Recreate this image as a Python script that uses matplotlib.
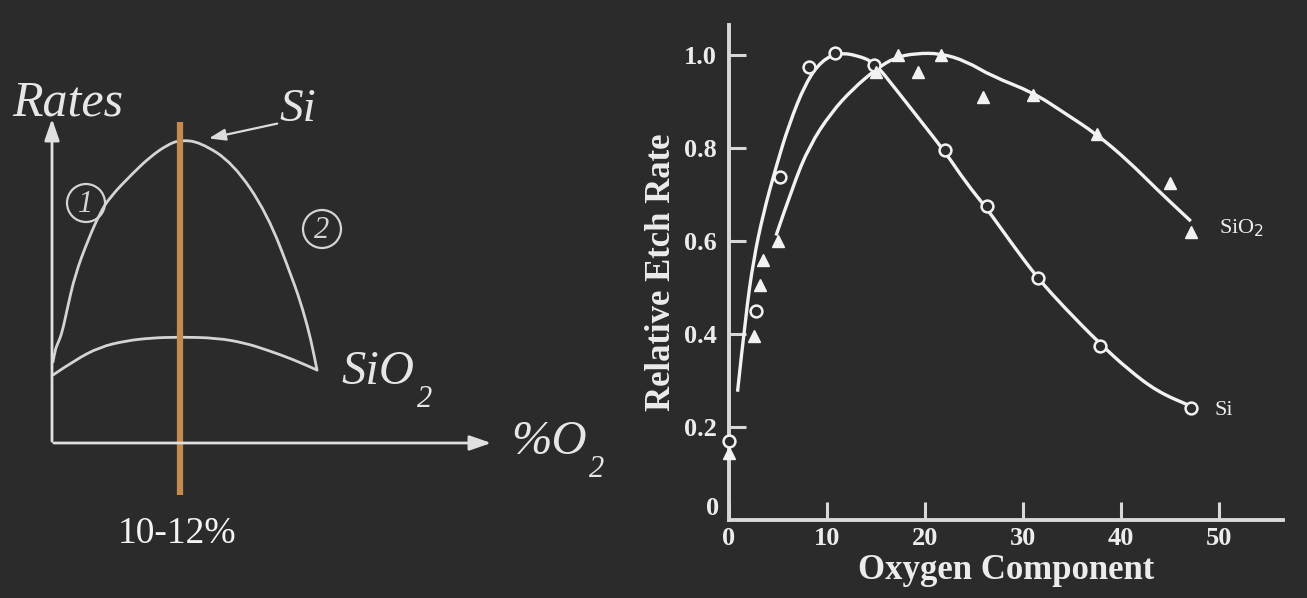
import matplotlib
matplotlib.use("Agg")
import matplotlib.pyplot as plt
from matplotlib.path import Path
from matplotlib.patches import PathPatch

BG = "#2b2b2b"
FG = "#ececec"
SERIF = ["Liberation Serif", "DejaVu Serif"]

# ---------------- right chart data ----------------
si_pts_x = [0.0, 2.8, 5.2, 8.2, 10.8, 14.8, 22.0, 26.3, 31.5, 37.8, 47.1]
si_pts_y = [0.17, 0.45, 0.738, 0.975, 1.005, 0.98, 0.795, 0.675, 0.52, 0.375, 0.242]

sio2_pts_x = [0.0, 2.6, 3.2, 3.5, 5.0, 15.0, 17.2, 19.3, 21.6, 25.9, 31.0, 37.5, 45.0, 47.1]
sio2_pts_y = [0.145, 0.395, 0.505, 0.56, 0.60, 0.963, 1.0, 0.963, 1.0, 0.91, 0.915, 0.83, 0.726, 0.62]

si_fit_x = [0.87, 1.7, 2.5, 3.5, 4.8, 6.1, 7.8, 9.5, 11.3, 13.0, 14.8, 16.9, 19.5,
            22.1, 24.2, 26.3, 29.0, 31.5, 34.2, 37.8, 40.7, 43.7, 47.1]
si_fit_y = [0.276, 0.44, 0.56, 0.66, 0.76, 0.85, 0.94, 0.99, 1.005, 1.0, 0.985, 0.93, 0.86,
            0.79, 0.725, 0.67, 0.59, 0.52, 0.457, 0.38, 0.324, 0.276, 0.245]

sio2_fit_x = [4.8, 6.5, 8.2, 10.4, 12.6, 15.0, 16.9, 19.0, 21.6, 24.2, 26.8, 31.0,
              34.2, 37.5, 40.7, 43.7, 47.1]
sio2_fit_y = [0.612, 0.718, 0.805, 0.876, 0.927, 0.97, 0.995, 1.004, 1.004, 0.987, 0.955, 0.92,
              0.876, 0.83, 0.773, 0.71, 0.643]

x_ticks = [0, 10, 20, 30, 40, 50]
x_tick_labels = ["0", "10", "20", "30", "40", "50"]
y_ticks = [0.2, 0.4, 0.6, 0.8, 1.0]
y_tick_labels = ["0.2", "0.4", "0.6", "0.8", "1.0"]

# ---------------- left schematic (pixel coordinates) ----------------
sch_si_x = [53, 55, 58, 62, 67, 75, 88, 100, 110, 133, 150, 167, 180, 200, 233, 267, 293, 303, 311, 317]
sch_si_y = [362, 350, 343, 333, 310, 275, 240, 213, 197, 173, 157, 145, 140, 142, 163, 213, 280, 310, 340, 370]
sch_sio2_x = [53, 75, 100, 125, 150, 180, 217, 245, 267, 292, 317]
sch_sio2_y = [375, 360, 347, 341, 338, 337, 338, 343, 350, 359, 370]


def smooth_patch(xs, ys, **kw):
    """Quadratic-Bezier rendering through the read points (drawing only)."""
    pts = list(zip(xs, ys))
    verts = [pts[0]]
    codes = [Path.MOVETO]
    for i in range(1, len(pts) - 1):
        mid = ((pts[i][0] + pts[i + 1][0]) / 2, (pts[i][1] + pts[i + 1][1]) / 2)
        verts += [pts[i], mid]
        codes += [Path.CURVE3, Path.CURVE3]
    verts.append(pts[-1])
    codes.append(Path.LINETO)
    return PathPatch(Path(verts, codes), fill=False, **kw)


W, H = 1307, 598
fig = plt.figure(figsize=(W / 100, H / 100), dpi=100, facecolor=BG)

# ---- left: overlay axes in pixel coordinates ----
ax0 = fig.add_axes([0, 0, 1, 1])
ax0.set_xlim(0, W)
ax0.set_ylim(H, 0)
ax0.axis("off")
ax0.patch.set_alpha(0)

LC = "#d4d4d4"
ax0.add_patch(smooth_patch(sch_si_x, sch_si_y, ec=LC, lw=2.0, capstyle="round"))
ax0.add_patch(smooth_patch(sch_sio2_x, sch_sio2_y, ec=LC, lw=2.0, capstyle="round"))
# axes with arrows
ax0.annotate("", xy=(52, 116), xytext=(52, 444),
             arrowprops=dict(arrowstyle="-|>,head_length=1.3,head_width=0.45", color="#e0e0e0", lw=2))
ax0.annotate("", xy=(494, 443), xytext=(51, 443),
             arrowprops=dict(arrowstyle="-|>,head_length=1.3,head_width=0.45", color="#e0e0e0", lw=2))
# orange line
ax0.plot([180, 180], [122, 495], color="#c58a4e", lw=4.5, solid_capstyle="butt")
# Si pointer arrow
ax0.annotate("", xy=(206, 139), xytext=(280, 123),
             arrowprops=dict(arrowstyle="-|>,head_length=1.0,head_width=0.35", color="#dcdcdc", lw=1.6))
# circles 1 and 2
for cx, cy, t in [(86, 203, "1"), (322, 229, "2")]:
    ax0.add_patch(plt.Circle((cx, cy), 19, fill=False, ec=LC, lw=1.6))
    ax0.text(cx, cy + 1, t, family=SERIF, style="italic", fontsize=22, color=LC,
             ha="center", va="center")

TC = "#e6e6e6"
ax0.text(12, 103, "Rates", family=SERIF, style="italic", fontsize=36, color=TC,
         ha="left", va="center")
ax0.text(298, 110, "Si", family=SERIF, style="italic", fontsize=34, color=TC,
         ha="center", va="center")
t1 = ax0.text(341, 372, "SiO", family=SERIF, style="italic", fontsize=35, color=TC,
              ha="left", va="center")
ax0.annotate("2", xy=(1.0, 0.0), xycoords=t1, xytext=(2, -4), textcoords="offset points",
             family=SERIF, style="italic", fontsize=22, color=TC, ha="left", va="center")
t2 = ax0.text(511, 442, "%O", family=SERIF, style="italic", fontsize=35, color=TC,
              ha="left", va="center")
ax0.annotate("2", xy=(1.0, 0.0), xycoords=t2, xytext=(2, -4), textcoords="offset points",
             family=SERIF, style="italic", fontsize=22, color=TC, ha="left", va="center")
ax0.text(177, 534, "10-12%", family=SERIF, fontsize=27, color="#f4f4f4",
         ha="center", va="center")

# ---- right chart ----
ax = fig.add_axes([729 / W, 78 / H, 554 / W, 495 / H])
ax.set_facecolor("none")
ax.set_xlim(0, 56.5)
ax.set_ylim(0, 1.065)
for s in ["top", "right"]:
    ax.spines[s].set_visible(False)
for s in ["left", "bottom"]:
    ax.spines[s].set_color("#d8d8d8")
    ax.spines[s].set_linewidth(2.8)

LW = "#f2f2f2"
ax.add_patch(smooth_patch(si_fit_x, si_fit_y, ec=LW, lw=2.4, zorder=2))
ax.add_patch(smooth_patch(sio2_fit_x, sio2_fit_y, ec=LW, lw=2.4, zorder=2))
ax.plot(si_pts_x, si_pts_y, linestyle="none", marker="o", ms=8.5, mfc=BG, mec=LW, mew=1.8,
        zorder=3, clip_on=False)
ax.plot(sio2_pts_x, sio2_pts_y, linestyle="none", marker="^", ms=9, mfc=LW, mec=LW,
        zorder=3, clip_on=False)

ax.set_xticks(x_ticks)
ax.set_xticklabels(x_tick_labels)
ax.set_yticks(y_ticks)
ax.set_yticklabels(y_tick_labels)
ax.tick_params(axis="x", direction="in", length=13, width=2.2, color="#d8d8d8", pad=5,
               labelsize=19, labelcolor=FG)
ax.tick_params(axis="y", direction="in", length=12, width=2.2, color="#d8d8d8", pad=9,
               labelsize=19, labelcolor=FG)
for lab in ax.get_xticklabels() + ax.get_yticklabels():
    lab.set_family(SERIF)
    lab.set_fontweight("bold")
ax.text(-1.0, 0.0, "0", family=SERIF, fontweight="bold", fontsize=19, color=FG,
        ha="right", va="bottom", transform=ax.transData)

ax.set_xlabel("Oxygen Component", family=SERIF, fontweight="bold", fontsize=25, color=FG,
              labelpad=3)
ax.set_ylabel("Relative Etch Rate", family=SERIF, fontweight="bold", fontsize=25, color=FG,
              labelpad=4)

ax.text(50.0, 0.628, "SiO$_2$", family=SERIF, fontsize=16, color=FG, ha="left", va="center")
ax.text(49.5, 0.235, "Si", family=SERIF, fontsize=16, color=FG, ha="left", va="center")

fig.savefig("out.png", dpi=100, facecolor=BG)
